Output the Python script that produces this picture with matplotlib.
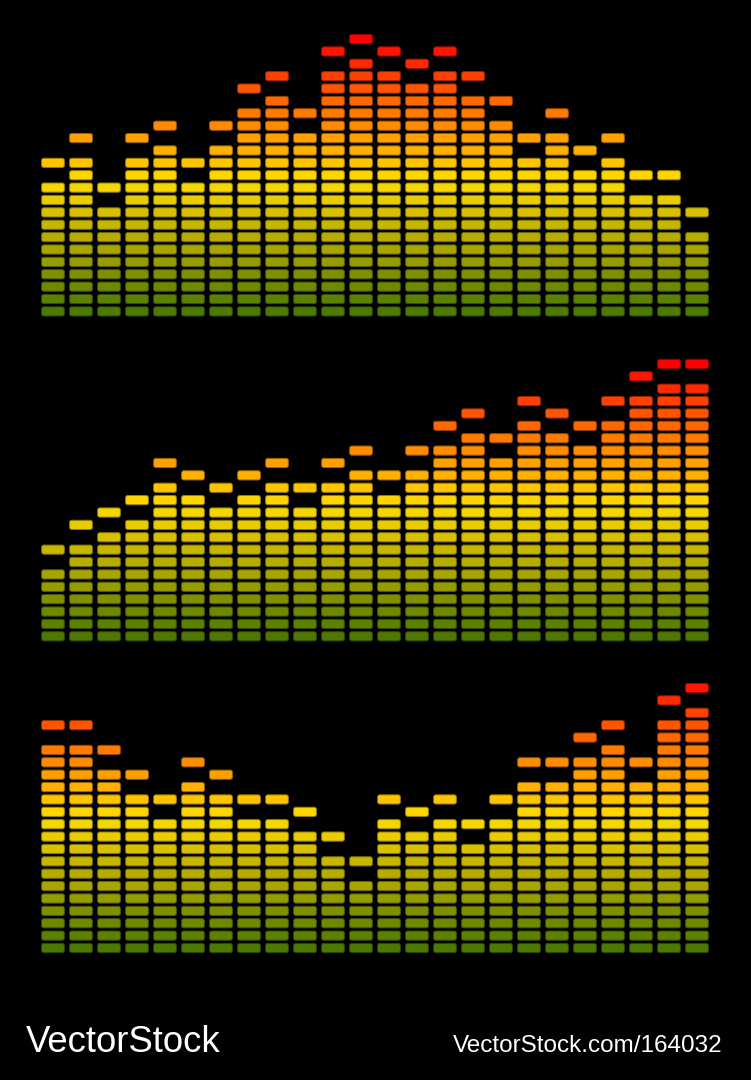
import matplotlib
matplotlib.use("Agg")
import matplotlib.pyplot as plt
from matplotlib.patches import FancyBboxPatch
from matplotlib.colors import to_rgb

# ---- data: number of lit segments (stack) and row index of floating peak ----
levels1 = [11, 13, 9, 13, 14, 11, 14, 17, 18, 15, 20, 21, 20, 19, 20, 18, 16, 13, 15, 12, 13, 10, 10, 7]
peaks1  = [12, 14, 10, 14, 15, 12, 15, 18, 19, 16, 21, 22, 21, 20, 21, 19, 17, 14, 16, 13, 14, 11, 11, 8]

levels2 = [6, 8, 9, 10, 13, 12, 11, 12, 13, 11, 13, 14, 12, 14, 16, 17, 15, 18, 17, 16, 18, 20, 21, 21]
peaks2  = [7, 9, 10, 11, 14, 13, 12, 13, 14, 12, 14, 15, 13, 15, 17, 18, 16, 19, 18, 17, 19, 21, 22, 22]

levels3 = [17, 17, 15, 13, 11, 14, 13, 11, 11, 10, 8, 6, 11, 10, 11, 9, 11, 14, 14, 16, 17, 14, 19, 20]
peaks3  = [18, 18, 16, 14, 12, 15, 14, 12, 12, 11, 9, 7, 12, 11, 12, 10, 12, 15, 15, 17, 18, 15, 20, 21]

panels = [(levels1, peaks1), (levels2, peaks2), (levels3, peaks3)]

brand = "VectorStock"
image_id = "VectorStock.com/164032"

# ---- style ----
row_colors = ["#4c7a00", "#5c8000", "#6e8800", "#808f00", "#949c00", "#a8a400",
              "#b6ac00", "#c6b600", "#d8c000", "#e8cc00", "#f4d600", "#ffd500",
              "#ffc400", "#ffb000", "#ffa000", "#ff8c00", "#ff7a00", "#ff6800",
              "#ff5500", "#ff4000", "#ff2a00", "#ff1500", "#ff0000"]

W, H = 751, 1080
fig = plt.figure(figsize=(W / 100, H / 100), dpi=100, facecolor="black")
ax = fig.add_axes([0, 0, 1, 1])
ax.set_xlim(0, W)
ax.set_ylim(H, 0)
ax.set_facecolor("black")
ax.axis("off")

panel_bottoms = [311.4, 636.3, 948.0]
row_pitch = 12.38
col_x0 = 53.0
col_pitch = 28.0
seg_w = 22.8
seg_h = 9.2


def darker(c, f=0.7):
    r, g, b = to_rgb(c)
    return (r * f, g * f, b * f)


def draw_seg(col, row, base):
    cx = col_x0 + col * col_pitch
    cy = base - row * row_pitch
    c = row_colors[row]
    p = FancyBboxPatch((cx - seg_w / 2, cy - seg_h / 2), seg_w, seg_h,
                       boxstyle="round,pad=0,rounding_size=2.2",
                       facecolor=c, edgecolor=darker(c, 0.6), linewidth=0.7)
    ax.add_patch(p)


for (levels, peaks), base in zip(panels, panel_bottoms):
    for i, (lv, pk) in enumerate(zip(levels, peaks)):
        for r in range(lv):
            draw_seg(i, r, base)
        draw_seg(i, pk, base)

ax.text(26, 1052, brand, color="white", fontsize=26.3, family="Liberation Sans",
        ha="left", va="baseline")
ax.text(723, 1052, image_id, color="white", fontsize=17.5, family="Liberation Sans",
        ha="right", va="baseline")

fig.savefig("out.png", dpi=100, facecolor="black")
